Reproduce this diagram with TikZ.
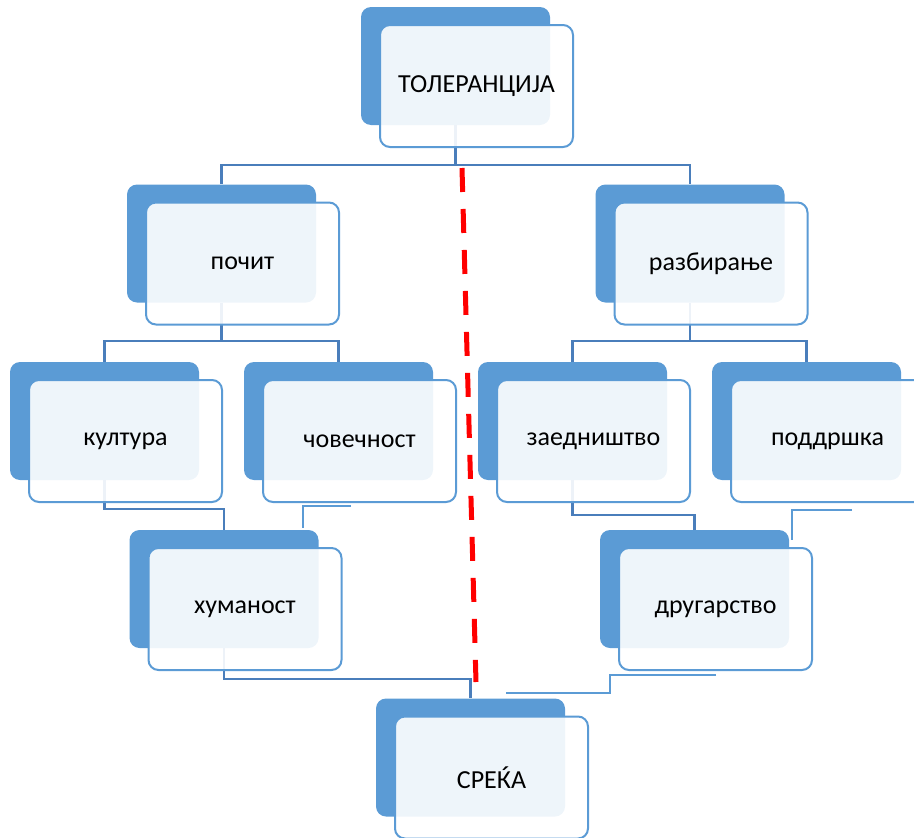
\documentclass[tikz,border=0pt]{standalone}
\usepackage{fontspec}
\setmainfont{Carlito}
\usepackage{xcolor}
\usepackage{tikz}
\usetikzlibrary{positioning, backgrounds}
\definecolor{backblue}{RGB}{91,155,213}
\definecolor{lineblue}{RGB}{74,126,187}
\definecolor{dashred}{RGB}{255,0,0}

\begin{document}
\begin{tikzpicture}[x=1pt, y=-1pt,
    backbox/.style={rectangle, rounded corners=10pt, fill=backblue, minimum width=189pt, minimum height=118pt, inner sep=0pt},
    frontbox/.style={rectangle, rounded corners=10pt, draw=backblue, line width=2pt, fill=white, fill opacity=0.9, text opacity=1, minimum width=193pt, minimum height=122pt, inner sep=0pt, font=\fontsize{26}{31}\selectfont},
    conn/.style={draw=lineblue, line width=2.5pt},
    stub/.style={draw=backblue, line width=1.3pt},
    split/.style={draw=dashred, line width=5pt, dash pattern=on 24pt off 17pt}
]
\useasboundingbox (0,0) rectangle (914,838);

% back boxes
\node[backbox] (tolB) at (455.5,66) {};
\node[backbox] (pocB) at (221.5,243.5) {};
\node[backbox] (razB) at (690,243.5) {};
\node[backbox] (kulB) at (104.5,421) {};
\node[backbox] (covB) at (338.5,421) {};
\node[backbox] (zaeB) at (572.5,421) {};
\node[backbox] (podB) at (806.5,421) {};
\node[backbox] (humB) at (224,589) {};
\node[backbox] (druB) at (694.5,589) {};
\node[backbox] (sreB) at (470.5,757.5) {};

% front boxes
\node[frontbox] (tol) at ([xshift=21pt,yshift=-20pt]tolB.center) {ТОЛЕРАНЦИЈА};
\node[frontbox] (poc) at ([xshift=21pt,yshift=-20pt]pocB.center) {почит};
\node[frontbox] (raz) at ([xshift=21pt,yshift=-20pt]razB.center) {разбирање};
\node[frontbox] (kul) at ([xshift=21pt,yshift=-20pt]kulB.center) {култура};
\node[frontbox] (cov) at ([xshift=21pt,yshift=-20pt]covB.center) {човечност};
\node[frontbox] (zae) at ([xshift=21pt,yshift=-20pt]zaeB.center) {заедништво};
\node[frontbox] (pod) at ([xshift=21pt,yshift=-20pt]podB.center) {поддршка};
\node[frontbox] (hum) at ([xshift=21pt,yshift=-20pt]humB.center) {хуманост};
\node[frontbox] (dru) at ([xshift=21pt,yshift=-20pt]druB.center) {другарство};
\node[frontbox] (sre) at ([xshift=21pt,yshift=-20pt]sreB.center) {СРЕЌА};

% connectors
\begin{scope}[on background layer]
\draw[conn] (tolB.south) -- ++(0,40) -| (pocB.north);
\draw[conn] (tolB.south) ++(0,40) -| (razB.north);
\draw[conn] (pocB.south) -- ++(0,38.5) -| (kulB.north);
\draw[conn] (pocB.south) ++(0,38.5) -| (covB.north);
\draw[conn] (razB.south) -- ++(0,38.5) -| (zaeB.north);
\draw[conn] (razB.south) ++(0,38.5) -| (podB.north);
\draw[conn] (kulB.south) -- ++(0,29) -| (humB.north);
\draw[conn] (zaeB.south) -- ++(0,35) -| (druB.north);
\draw[conn] (humB.south) -- ++(0,31) -| (sreB.north);

% loose ends
\coordinate (covEnd) at (351,506);
\coordinate (podEnd) at (852,510);
\coordinate (druEnd) at (716,675);
\coordinate (sreEnd) at (506,693);
\draw[stub] (covEnd) -- (303,506) -- (303,528);
\draw[stub] (podEnd) -- (792,510) -- (792,540);
\draw[stub] (druEnd) -- (610,675) -- (610,693) -- (sreEnd);
\end{scope}

% dividing line
\coordinate (splitTop) at (462,168);
\coordinate (splitEnd) at (476,682);
\draw[split] (splitTop) -- (splitEnd);
\end{tikzpicture}
\end{document}
